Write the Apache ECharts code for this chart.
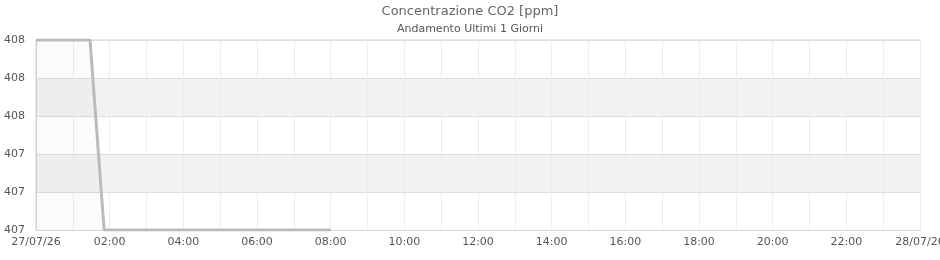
<!DOCTYPE html>
<html><head><meta charset="utf-8">
<script src="https://cdn.jsdelivr.net/npm/echarts@6/dist/echarts.min.js"></script>
<style>html,body{margin:0;padding:0;background:#fff}#c{width:940px;height:260px}</style>
</head><body><div id="c"></div>
<script>
var titleText = 'Concentrazione CO2 [ppm]';
var subtitleText = 'Andamento Ultimi 1 Giorni';
var startLabel = '27/07/26';
var endLabel = '28/07/26';
var times = ['00:00', '01:28', '01:51', '08:00'];
var values = [408, 408, 407, 407];
var yMin = 407, yMax = 408, yStep = 0.2;

function toHours(t){ var p = t.split(':'); return +p[0] + (+p[1])/60; }
var data = times.map(function(t,i){ return [toHours(t), values[i]]; });

var chart = echarts.init(document.getElementById('c'), null, {renderer:'canvas'});
var font = 'DejaVu Sans';
chart.setOption({
  animation:false,
  title:{text:titleText, subtext:subtitleText, left:'center', top:0, itemGap:6,
    textStyle:{fontFamily:font,fontSize:13,fontWeight:'normal',color:'#666'},
    subtextStyle:{fontFamily:font,fontSize:11,color:'#555'}},
  grid:{left:36, right:20, top:40, bottom:30, show:true, borderColor:'#d4d4d4', borderWidth:1, backgroundColor:'transparent', containLabel:false, outerBoundsMode:'none'},
  xAxis:{type:'value', min:0, max:24, interval:1,
    axisLine:{show:true, lineStyle:{color:'#d4d4d4'}},
    axisTick:{show:false},
    splitLine:{show:true, lineStyle:{color:'#ecebf8', width:1}},
    axisLabel:{fontFamily:font, fontSize:11, color:'#555', margin:7, showMinLabel:true, showMaxLabel:true, hideOverlap:false,
      formatter:function(v){
        if (v===0) return startLabel;
        if (v===24) return endLabel;
        if (v%2!==0) return '';
        return (v<10?'0':'')+v+':00';
      }}
  },
  yAxis:{type:'value', min:yMin, max:yMax, interval:yStep,
    axisLine:{show:true, lineStyle:{color:'#d4d4d4'}},
    axisTick:{show:false},
    splitLine:{show:true, lineStyle:{color:'#dddddd'}},
    splitArea:{show:true, areaStyle:{color:['#ffffff','#f2f2f2']}},
    axisLabel:{fontFamily:font, fontSize:11, color:'#555', margin:11,
      formatter:function(v){ return v.toFixed(0); }}
  },
  series:[{type:'line', data:data, symbol:'none', smooth:false,
    lineStyle:{color:'#bbbbbb', width:3},
    areaStyle:{color:'rgba(0,0,0,0.02)', origin:'start'}}]
});
</script></body></html>
